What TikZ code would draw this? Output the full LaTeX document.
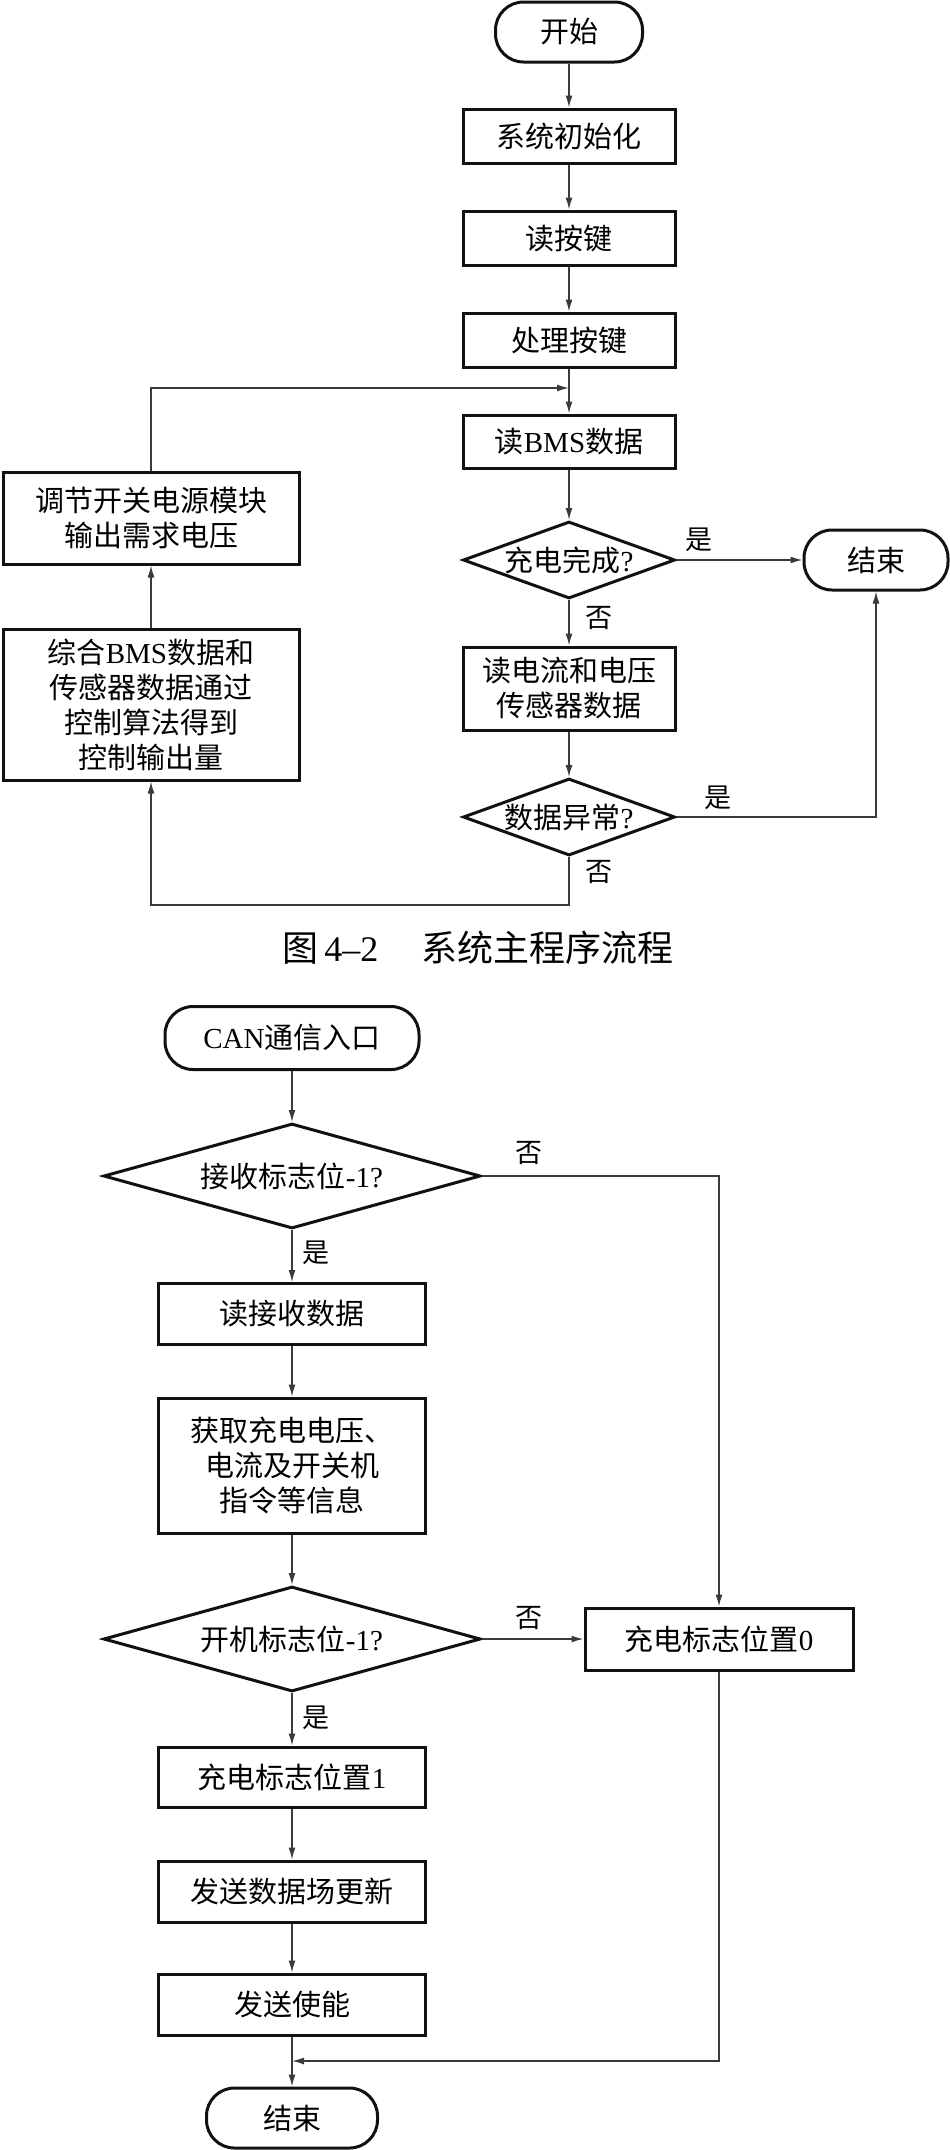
\documentclass[tikz,border=0pt]{standalone}
\usepackage{fontspec}
\setmainfont{Noto Sans CJK SC}
\newfontfamily\lat{Liberation Serif}
\usetikzlibrary{arrows.meta,shapes.geometric}
\definecolor{Ink}{HTML}{111111}
\definecolor{Wire}{HTML}{3A3A3A}
\tikzset{
  stepbox/.style={draw=Ink, line width=3pt, align=center, inner sep=0pt, font=\fontsize{29}{35}\selectfont},
  termbox/.style={stepbox, rounded corners=28pt},
  testbox/.style={stepbox, diamond},
  wire/.style={Wire, line width=1.4pt, -{Latex[length=12pt,width=7pt]}},
  lbl/.style={font=\fontsize{27}{30}\selectfont, inner sep=0pt},
}
\begin{document}
\begin{tikzpicture}[x=1pt,y=-1pt]
\fill[white] (0,0) rectangle (950,2150);
\useasboundingbox (0,0) rectangle (950,2150);
% main program
\node[termbox, minimum width=147pt, minimum height=60pt] (start) at (569,32) {开始};
\node[stepbox, minimum width=212pt, minimum height=54pt] (init) at (569,136) {系统初始化};
\node[stepbox, minimum width=212pt, minimum height=54pt] (key) at (569,238) {读按键};
\node[stepbox, minimum width=212pt, minimum height=54pt] (proc) at (569,340) {处理按键};
\node[stepbox, minimum width=212pt, minimum height=53pt] (bms) at (569,441.5) {读{\lat BMS}数据};
\node[testbox, aspect=2.75, minimum width=212pt, minimum height=77pt] (done) at (569,560) {充电完成{\lat ?}};
\node[termbox, minimum width=144pt, minimum height=60pt] (endA) at (876,560) {结束};
\node[stepbox, minimum width=212pt, minimum height=83pt] (sensor) at (569,688.5) {读电流和电压\\传感器数据};
\node[testbox, aspect=2.75, minimum width=212pt, minimum height=77pt] (abn) at (569,817) {数据异常{\lat ?}};
\node[stepbox, minimum width=296pt, minimum height=92pt] (adjust) at (151,518) {调节开关电源模块\\输出需求电压};
\node[stepbox, minimum width=296pt, minimum height=151pt] (ctrl) at (151,704.5) {综合{\lat BMS}数据和\\传感器数据通过\\控制算法得到\\控制输出量};
\coordinate (jA) at (569,388);
\coordinate (jB) at (569,905);
\draw[wire] (start) -- (init);
\draw[wire] (init) -- (key);
\draw[wire] (key) -- (proc);
\draw[wire] (proc) -- (bms);
\draw[wire] (bms) -- (done);
\draw[wire] (done.east) -- (endA.west);
\draw[wire] (done.south) -- (sensor.north);
\draw[wire] (sensor) -- (abn);
\draw[wire] (abn.east) -| (endA.south);
\draw[wire] (abn.south) -- (jB) -| (ctrl.south);
\draw[wire] (ctrl.north) -- (adjust.south);
\draw[wire] (adjust.north) |- (jA);
\node[lbl] (yesA) at (699,540) {是};
\node[lbl] (noA) at (599,618) {否};
\node[lbl] (yesB) at (718,798) {是};
\node[lbl] (noB) at (599,872) {否};
\node[font=\fontsize{36}{40}\selectfont, inner sep=0pt] (cap) at (478,948) {图\,{\lat 4–2}\hspace{1.2em}系统主程序流程};
% CAN routine
\node[termbox, minimum width=254pt, minimum height=63pt] (can) at (292,1038) {{\lat CAN}通信入口};
\node[testbox, aspect=3.6, minimum width=377pt, minimum height=105pt] (rx) at (292,1176) {接收标志位{\lat -1?}};
\node[stepbox, minimum width=267pt, minimum height=61pt] (rd) at (292,1314) {读接收数据};
\node[stepbox, minimum width=267pt, minimum height=135pt] (get) at (292,1465.5) {获取充电电压、\\电流及开关机\\指令等信息};
\node[testbox, aspect=3.6, minimum width=377pt, minimum height=105pt] (on) at (292,1639) {开机标志位{\lat -1?}};
\node[stepbox, minimum width=268pt, minimum height=62pt] (flag0) at (719,1639) {充电标志位置{\lat 0}};
\node[stepbox, minimum width=267pt, minimum height=60pt] (flag1) at (292,1777) {充电标志位置{\lat 1}};
\node[stepbox, minimum width=267pt, minimum height=61pt] (upd) at (292,1891.5) {发送数据场更新};
\node[stepbox, minimum width=267pt, minimum height=61pt] (en) at (292,2004.5) {发送使能};
\node[termbox, minimum width=171pt, minimum height=60pt] (endB) at (292,2118) {结束};
\coordinate (jC) at (292,2061);
\draw[wire] (can) -- (rx);
\draw[wire] (rx.south) -- (rd.north);
\draw[wire] (rd) -- (get);
\draw[wire] (get) -- (on);
\draw[wire] (on.east) -- (flag0.west);
\draw[wire] (rx.east) -| (flag0.north);
\draw[wire] (on.south) -- (flag1.north);
\draw[wire] (flag1) -- (upd);
\draw[wire] (upd) -- (en);
\draw[wire] (en) -- (endB);
\draw[wire] (flag0.south) |- (jC);
\node[lbl] (noC) at (529,1153) {否};
\node[lbl] (yesC) at (316,1253) {是};
\node[lbl] (noD) at (529,1618) {否};
\node[lbl] (yesD) at (316,1718) {是};
\end{tikzpicture}
\end{document}
